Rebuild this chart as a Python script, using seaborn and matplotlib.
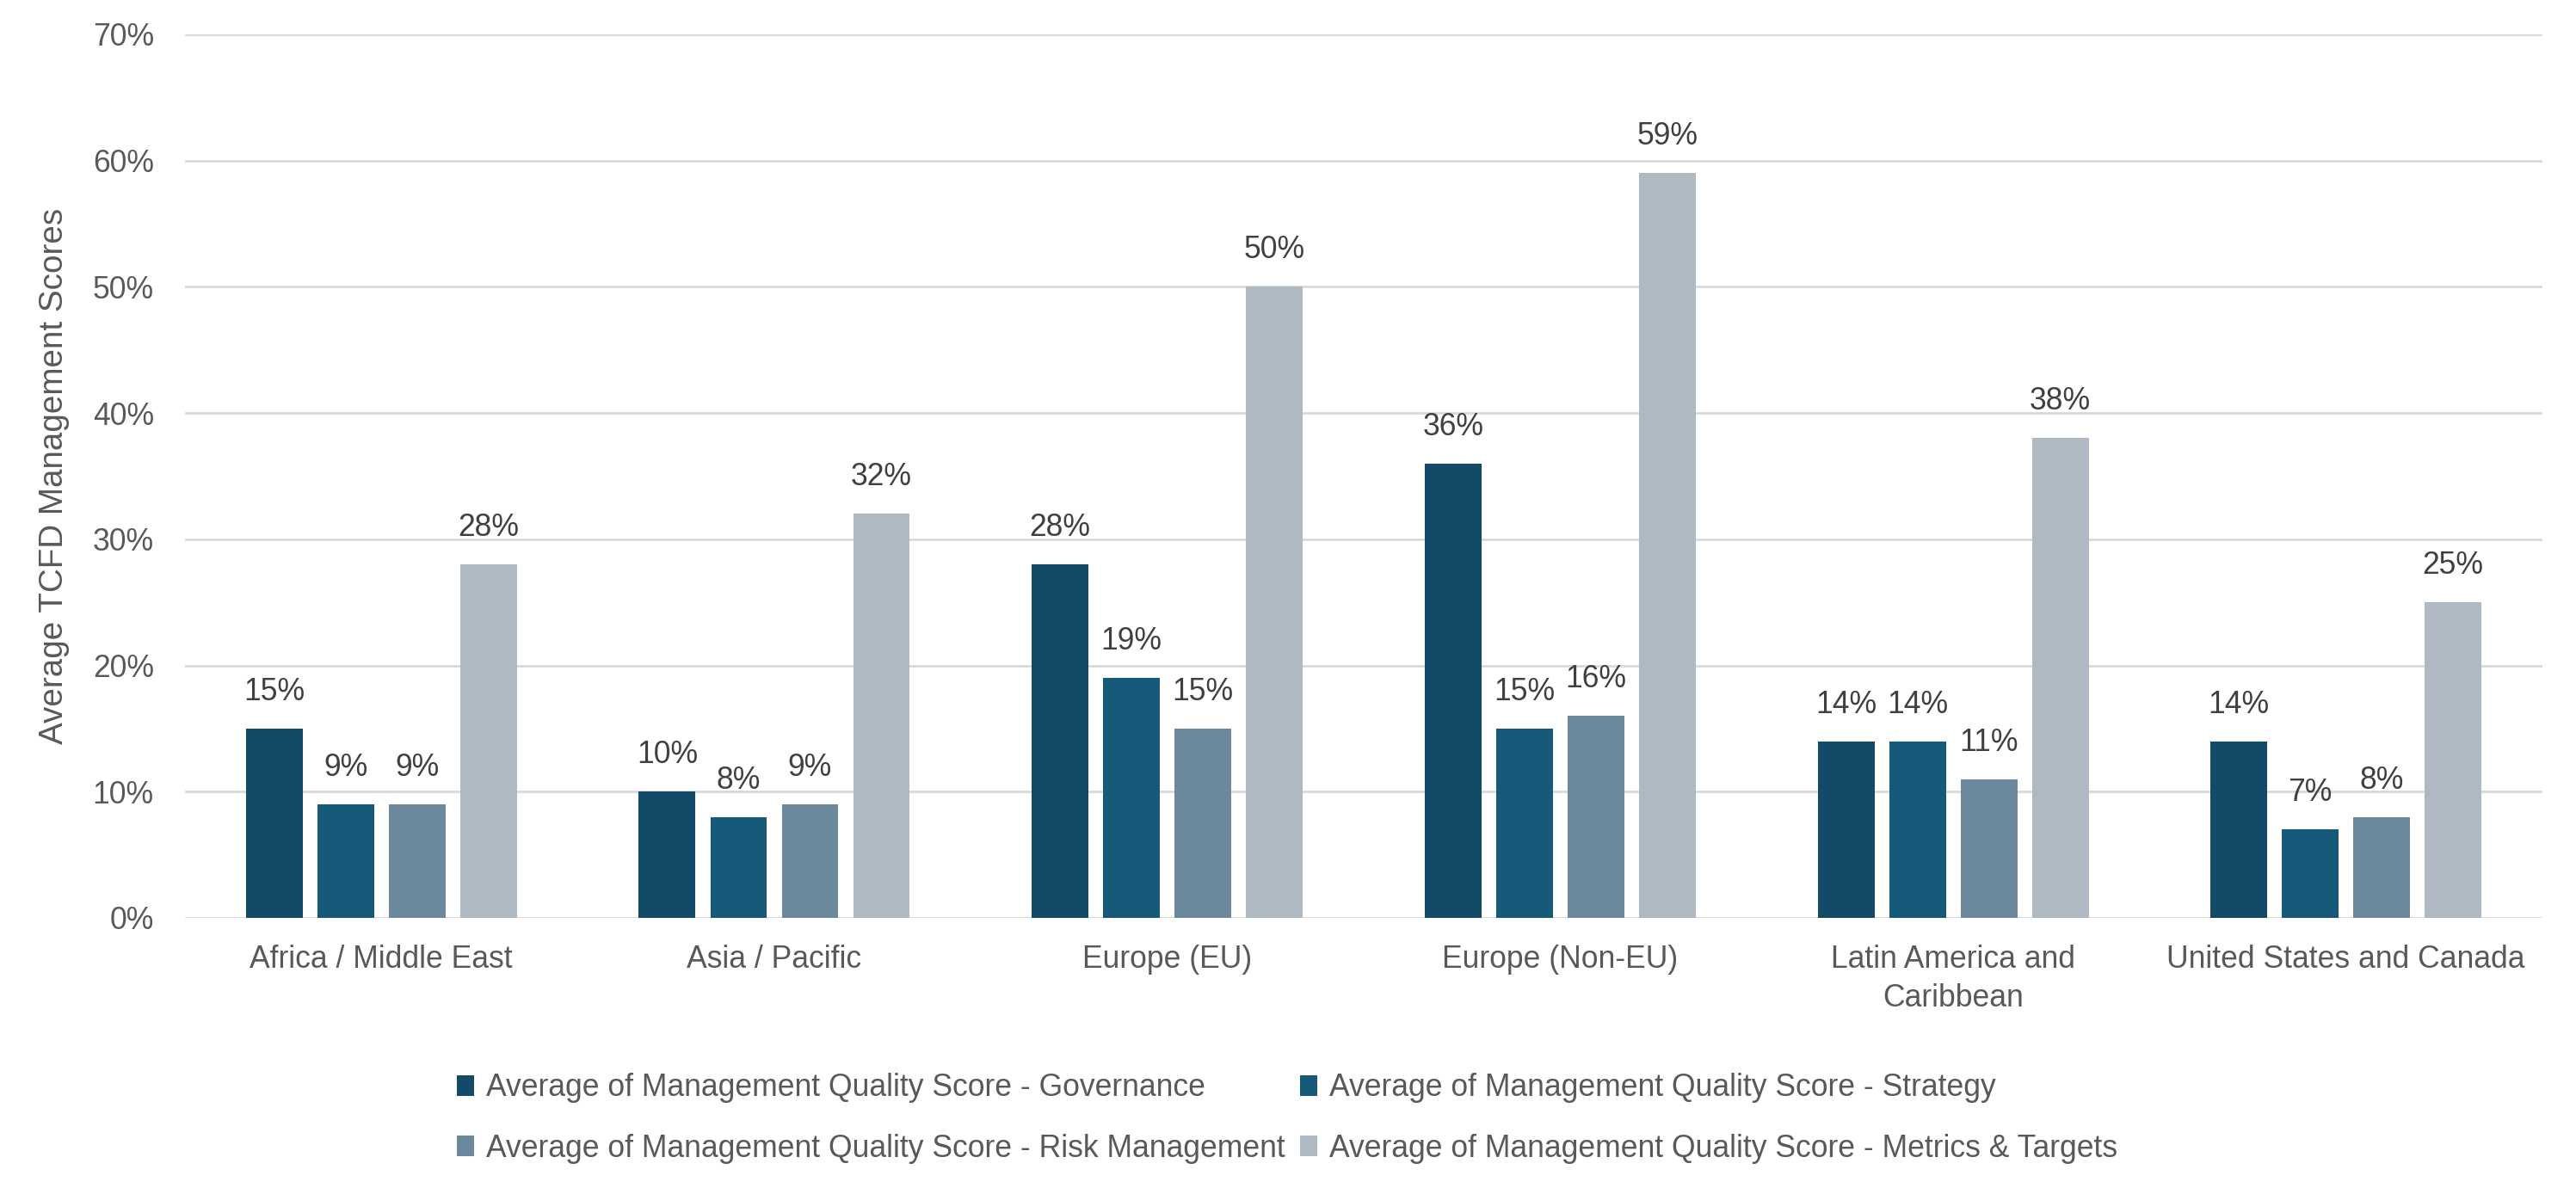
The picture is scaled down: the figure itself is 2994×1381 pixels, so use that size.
import matplotlib
matplotlib.use("Agg")
import matplotlib.pyplot as plt
import matplotlib.ticker as mticker
import seaborn as sns
import pandas as pd

# =========================
# DATA
# =========================
regions = [
    "Africa / Middle East",
    "Asia / Pacific",
    "Europe (EU)",
    "Europe (Non-EU)",
    "Latin America and\nCaribbean",
    "United States and Canada",
]
series_names = [
    "Average of Management Quality Score - Governance",
    "Average of Management Quality Score - Strategy",
    "Average of Management Quality Score - Risk Management",
    "Average of Management Quality Score - Metrics & Targets",
]
governance = [0.15, 0.10, 0.28, 0.36, 0.14, 0.14]
strategy = [0.09, 0.08, 0.19, 0.15, 0.14, 0.07]
risk_mgmt = [0.09, 0.09, 0.15, 0.16, 0.11, 0.08]
metrics_targets = [0.28, 0.32, 0.50, 0.59, 0.38, 0.25]
y_ticks = [0.0, 0.1, 0.2, 0.3, 0.4, 0.5, 0.6, 0.7]

colors = ["#134A67", "#165A7A", "#6B889D", "#AFB9C3"]

rows = []
for name, vals in zip(series_names, [governance, strategy, risk_mgmt, metrics_targets]):
    for region, v in zip(regions, vals):
        rows.append({"Region": region, "Series": name, "Score": v})
df = pd.DataFrame(rows)

# =========================
# STYLE
# =========================
sns.set_theme(style="white")
plt.rcParams["font.family"] = ["Liberation Sans", "DejaVu Sans"]
FS = 12.8
TICK_COLOR = "#595959"
LABEL_COLOR = "#404040"

fig = plt.figure(figsize=(14.97, 6.905), dpi=200)
ax = fig.add_axes([0.0718, 0.2274, 0.9152, 0.7437])

sns.barplot(
    data=df, x="Region", y="Score", hue="Series",
    hue_order=series_names, order=regions, palette=colors,
    saturation=1, width=0.727, gap=0.205, linewidth=0, ax=ax,
)

# =========================
# DATA LABELS
# =========================
for container in ax.containers:
    ax.bar_label(container, fmt=lambda v: f"{v:.0%}", padding=9,
                 fontsize=FS, color=LABEL_COLOR)

# =========================
# AXES
# =========================
ax.set_ylim(0, 0.7)
ax.set_yticks(y_ticks)
ax.yaxis.set_major_formatter(mticker.PercentFormatter(1.0, decimals=0))
ax.set_xlim(-0.5, len(regions) - 0.5)
ax.grid(axis="y", color="#D9D9D9", linewidth=1.0)
ax.set_axisbelow(True)
for s in ax.spines.values():
    s.set_visible(False)
ax.tick_params(axis="y", length=0, pad=13, labelsize=FS, labelcolor=TICK_COLOR)
ax.tick_params(axis="x", length=0, pad=11, labelsize=FS, labelcolor=TICK_COLOR)
for lbl in ax.get_xticklabels():
    lbl.set_linespacing(1.4)
ax.set_xlabel("")
ax.set_ylabel("Average TCFD Management Scores", fontsize=13.9, color=TICK_COLOR)
ax.yaxis.set_label_coords(-0.049, 0.5)

# =========================
# LEGEND
# =========================
handles, labels = ax.get_legend_handles_labels()
ax.get_legend().remove()
order = [0, 2, 1, 3]
fig.legend(
    [handles[i] for i in order], [labels[i] for i in order],
    ncol=2, loc="center", bbox_to_anchor=(0.4997, 0.0587),
    frameon=False, fontsize=FS, labelcolor=TICK_COLOR,
    handlelength=0.55, handleheight=0.65, handletextpad=0.4,
    columnspacing=0.5, labelspacing=1.0,
)

fig.savefig("out.png", dpi=200)
